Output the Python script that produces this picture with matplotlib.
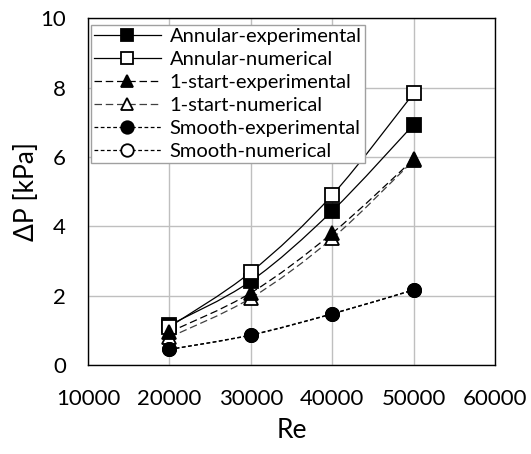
import matplotlib
matplotlib.use('Agg')
import matplotlib.pyplot as plt
from matplotlib.path import Path
from matplotlib.patches import PathPatch
from matplotlib.lines import Line2D
import numpy as np

plt.rcParams['font.family'] = ['Lato', 'DejaVu Sans']

RE = [20000, 30000, 40000, 50000]
ANNULAR_EXP = [1.15, 2.42, 4.44, 6.93]
ANNULAR_NUM = [1.10, 2.68, 4.90, 7.83]
START1_EXP = [0.95, 2.08, 3.80, 5.93]
START1_NUM = [0.80, 1.93, 3.65, 5.90]
SMOOTH_EXP = [0.45, 0.86, 1.47, 2.16]
SMOOTH_NUM = [0.45, 0.87, 1.48, 2.17]

# name, values, marker, face, linestyle, line colour, zorder
SERIES = [
    ('Annular-experimental', ANNULAR_EXP, 's', 'black', '-', 'black', 4),
    ('Annular-numerical', ANNULAR_NUM, 's', 'white', '-', 'black', 5),
    ('1-start-experimental', START1_EXP, '^', 'black', (0, (6, 3)), 'black', 5),
    ('1-start-numerical', START1_NUM, '^', 'white', (0, (6, 3)), '#404040', 4),
    ('Smooth-experimental', SMOOTH_EXP, 'o', 'black', (0, (3, 2)), 'black', 5),
    ('Smooth-numerical', SMOOTH_NUM, 'o', 'white', (0, (3, 2)), 'black', 4),
]


def smooth_path(x, y):
    # excel style smoothed line, catmull-rom turned into cubic bezier
    x = np.asarray(x, float)
    y = np.asarray(y, float)
    verts = [(x[0], y[0])]
    codes = [Path.MOVETO]
    n = len(x)
    for i in range(n - 1):
        p0 = (x[max(i - 1, 0)], y[max(i - 1, 0)])
        p1 = (x[i], y[i])
        p2 = (x[i + 1], y[i + 1])
        p3 = (x[min(i + 2, n - 1)], y[min(i + 2, n - 1)])
        c1 = (p1[0] + (p2[0] - p0[0]) / 6, p1[1] + (p2[1] - p0[1]) / 6)
        c2 = (p2[0] - (p3[0] - p1[0]) / 6, p2[1] - (p3[1] - p1[1]) / 6)
        verts += [c1, c2, p2]
        codes += [Path.CURVE4] * 3
    return Path(verts, codes)


fig = plt.figure(figsize=(5.31, 4.54), dpi=100)
ax = fig.add_axes([0.166, 0.196, 0.766, 0.764])

handles = []
for name, vals, mk, face, ls, col, z in SERIES:
    patch = PathPatch(smooth_path(RE, vals), facecolor='none', edgecolor=col,
                      linewidth=0.9, linestyle=ls, zorder=3)
    ax.add_patch(patch)
    ax.plot(RE, vals, linestyle='none', marker=mk, markersize=9.5,
            markerfacecolor=face, markeredgecolor='black', markeredgewidth=1.3,
            zorder=z)
    handles.append(Line2D([], [], color=col, linestyle=ls, linewidth=0.9,
                          marker=mk, markersize=9, markerfacecolor=face,
                          markeredgecolor='black', markeredgewidth=1.3,
                          label=name))

ax.set_xlim(10000, 60000)
ax.set_ylim(0, 10)
ax.set_xticks([10000, 20000, 30000, 40000, 50000, 60000])
ax.set_yticks([0, 2, 4, 6, 8, 10])
ax.grid(True, color='#bfbfbf', linewidth=1.0)
ax.set_axisbelow(True)
ax.tick_params(axis='x', length=0, labelsize=16, pad=17)
ax.tick_params(axis='y', length=0, labelsize=16, pad=16)
for sp in ax.spines.values():
    sp.set_color('black')
    sp.set_linewidth(1.0)

ax.set_xlabel('Re', fontsize=19, labelpad=7)
ax.set_ylabel('ΔP [kPa]', fontsize=19, labelpad=1)

leg = ax.legend(handles=handles, loc='upper left', bbox_to_anchor=(0.0, 0.99),
                fontsize=14.5, handlelength=3.3, handletextpad=0.45,
                labelspacing=0.3, borderpad=0.15, borderaxespad=0.15,
                fancybox=False, framealpha=1)
leg.get_frame().set_edgecolor('#a0a0a0')
leg.get_frame().set_linewidth(1.0)

fig.savefig('out.png', dpi=100)
